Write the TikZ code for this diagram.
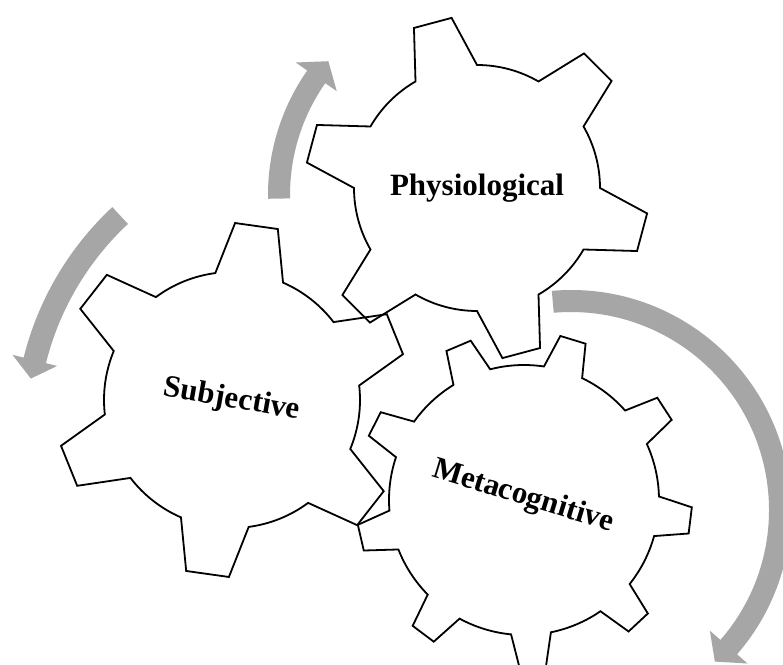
\documentclass[tikz,border=0pt]{standalone}
\usepackage{fontspec}
\setmainfont{Liberation Serif}
\usetikzlibrary{calc}
\definecolor{cyclegray}{HTML}{A6A6A6}
\tikzset{
  gearline/.style={draw=black, line width=1.8pt, line join=miter},
  geartext/.style={font=\fontsize{31}{36}\selectfont\bfseries, inner sep=0pt},
  cyclearrow/.style={fill=cyclegray, draw=none}
}
% gear: cx, cy, root radius, tip radius, teeth, first tooth angle, half root angle, half tip angle
\newcommand{\gearoutline}[8]{%
  \pgfmathtruncatemacro\lastk{#5-1}
  \draw[gearline, shift={(#1,#2)}] ({#6-#7}:{#3})
    \foreach \k [evaluate=\k as \a using {#6+\k*360/#5}] in {0,...,\lastk} {
      -- ({\a-#8}:{#4}) -- ({\a+#8}:{#4}) -- ({\a+#7}:{#3})
      arc[start angle={\a+#7}, end angle={\a+360/#5-#7}, radius={#3}]
    } -- cycle;
}
% curved arrow: cx, cy, radius, width, start angle, head angle, tip angle, head half width
\newcommand{\turnarrow}[8]{%
  \fill[cyclearrow, shift={(#1,#2)}]
    ({#5}:{#3+#4/2}) arc[start angle={#5}, end angle={#6}, radius={#3+#4/2}]
    -- ({#6}:{#3+#8}) -- ({#7}:{#3}) -- ({#6}:{#3-#8})
    -- ({#6}:{#3-#4/2}) arc[start angle={#6}, end angle={#5}, radius={#3-#4/2}]
    -- cycle;
}
\begin{document}
\begin{tikzpicture}[x=1pt, y=1pt]
  \clip (0,0) rectangle (783,664);
  \fill[white] (0,0) rectangle (783,664);

  % arrows
  \turnarrow{485}{469}{206}{22}{181}{145}{139.5}{25}
  \turnarrow{322}{232}{296}{23}{133}{166}{169.6}{23}
  \turnarrow{571}{154}{209}{22}{95}{-41}{-46.5}{25}

  % gears
  \gearoutline{477}{476}{123}{172}{6}{45}{15}{6.5}
  \gearoutline{232}{264}{128}{177}{6}{22}{15.5}{7}
  \gearoutline{524}{164}{135}{168}{9}{33}{8.5}{4.5}

  % labels
  \node[geartext] (physio) at (477,476) {Physiological};
  \node[geartext, rotate=-10] (subj) at (232,264) {Subjective};
  \node[geartext, rotate=-17] (meta) at (523,167) {Metacognitive};
\end{tikzpicture}
\end{document}
